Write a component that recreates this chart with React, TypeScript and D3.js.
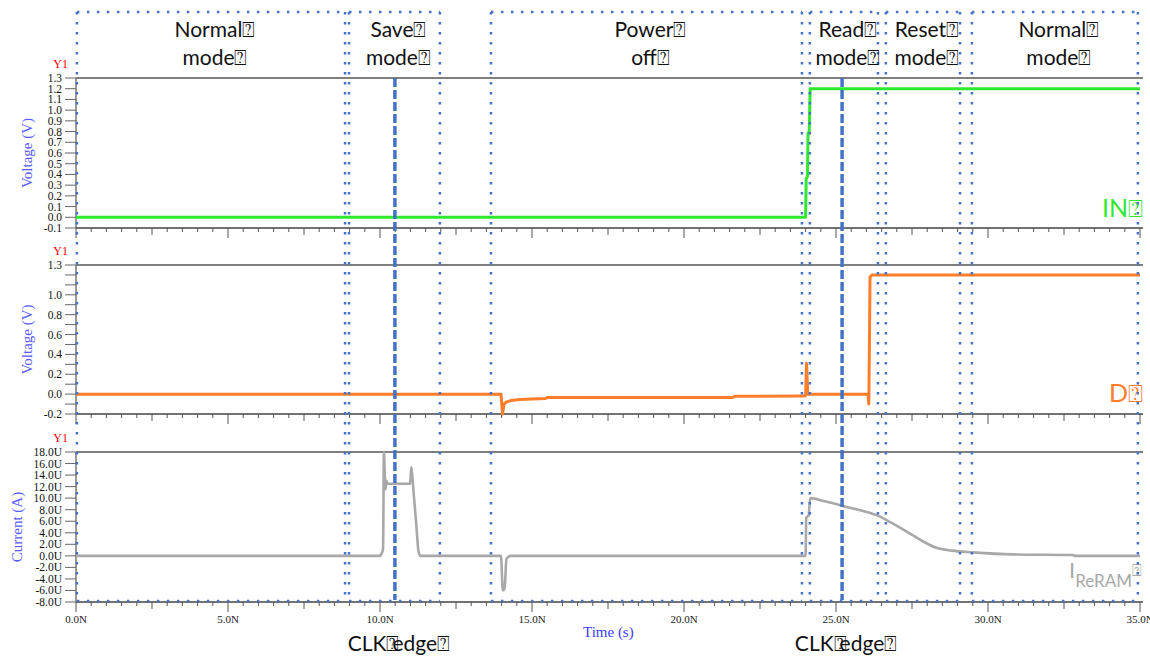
import React, { useEffect, useRef } from 'react'
import * as d3 from 'd3'

const W = 1150
const H = 658

// x axis, ns
const timeLabels = ['0.0N', '5.0N', '10.0N', '15.0N', '20.0N', '25.0N', '30.0N', '35.0N']
const timeLabelValues = [0, 5, 10, 15, 20, 25, 30, 35]

// IN (V)
const inTime = [0, 24.0, 24.02, 24.06, 24.08, 24.12, 24.15, 35]
const inVolt = [0, 0, 0.36, 0.38, 0.78, 0.8, 1.2, 1.2]

// D (V)
const dTime = [0, 13.98, 14.03, 14.08, 14.15, 14.3, 14.6, 15.0, 15.45, 15.5, 21.6, 21.65, 23.95, 24.0, 24.03, 24.07, 24.12, 26.05, 26.08, 26.12, 26.18, 35]
const dVolt = [0, 0, -0.2, -0.1, -0.08, -0.065, -0.055, -0.05, -0.045, -0.035, -0.035, -0.022, -0.02, -0.015, 0.31, 0.0, 0.0, 0.0, -0.1, 1.18, 1.2, 1.2]

// I_ReRAM (uA)
const iTime = [0, 10.0, 10.06, 10.1, 10.13, 10.16, 10.18, 10.21, 10.25, 10.99, 11.03, 11.09, 11.21, 11.26, 11.32, 13.98, 14.04, 14.1, 14.16, 14.3, 24.0, 24.02, 24.1, 24.15, 24.6, 25.2, 25.8, 26.45, 26.8, 27.2, 27.55, 27.9, 28.3, 28.8, 29.5, 30.8, 32.8, 32.85, 35]
const iCurr = [0, 0, 0.5, 1.2, 18, 13.5, 11.5, 13, 12.5, 12.5, 15.4, 12, 4.3, 1, 0, 0, -6, -5.6, -0.5, 0, 0, 6.6, 7, 10, 9.5, 8.7, 7.9, 6.8, 5.8, 4.6, 3.5, 2.4, 1.4, 0.9, 0.6, 0.25, 0.15, 0, 0]

// y ticks
const v1Ticks = [-0.1, 0, 0.1, 0.2, 0.3, 0.4, 0.5, 0.6, 0.7, 0.8, 0.9, 1.0, 1.1, 1.2, 1.3]
const v1Labels = ['-0.1', '0.0', '0.1', '0.2', '0.3', '0.4', '0.5', '0.6', '0.7', '0.8', '0.9', '1.0', '1.1', '1.2', '1.3']
const v2Ticks = [-0.2, -0.1, 0, 0.1, 0.2, 0.3, 0.4, 0.5, 0.6, 0.7, 0.8, 0.9, 1.0, 1.1, 1.2, 1.3]
const v2Labels = ['-0.2', '', '0.0', '', '0.2', '', '0.4', '', '0.6', '', '0.8', '', '1.0', '', '', '1.3']
const iTicks = [-8, -6, -4, -2, 0, 2, 4, 6, 8, 10, 12, 14, 16, 18]
const iLabels = ['-8.0U', '-6.0U', '-4.0U', '-2.0U', '0.0U', '2.0U', '4.0U', '6.0U', '8.0U', '10.0U', '12.0U', '14.0U', '16.0U', '18.0U']

// annotation boxes (ns)
const modeTop = ['Normal⍰', 'Save⍰', 'Power⍰', 'Read⍰', 'Reset⍰', 'Normal⍰']
const modeBottom = ['mode⍰', 'mode⍰', 'off⍰', 'mode⍰', 'mode⍰', 'mode⍰']
const modeStart = [0.03, 8.98, 13.65, 24.14, 26.64, 29.47]
const modeEnd = [8.85, 11.97, 23.88, 26.38, 29.08, 34.93]
const clkEdges = [10.49, 25.2]

const SERIF = '"Liberation Serif", "Times New Roman", serif'
const SANS = 'Lato, "Open Sans", sans-serif'
const BLUE = '#4472c4'

export default function App() {
    const svgRef = useRef<SVGSVGElement>(null)

    useEffect(() => {
        if (!svgRef.current) return
        const svg = d3.select(svgRef.current)
        svg.selectAll('*').remove()

        const x = d3.scaleLinear().domain([0, 35]).range([76, 1140])

        const panels = [
            { y: d3.scaleLinear().domain([-0.1, 1.3]).range([228, 78]), ticks: v1Ticks, labels: v1Labels, title: 'Voltage (V)', titleX: 27,
              t: inTime, v: inVolt, color: '#2fe82f', curve: d3.curveLinear },
            { y: d3.scaleLinear().domain([-0.2, 1.3]).range([414, 265]), ticks: v2Ticks, labels: v2Labels, title: 'Voltage (V)', titleX: 27,
              t: dTime, v: dVolt, color: '#fd7d2b', curve: d3.curveLinear },
            { y: d3.scaleLinear().domain([-8, 18]).range([602, 452]), ticks: iTicks, labels: iLabels, title: 'Current (A)', titleX: 17,
              t: iTime, v: iCurr, color: '#a8a8a8', curve: d3.curveMonotoneX },
        ]

        const minorT = d3.range(0, 35.01, 0.5)

        panels.forEach((p, pi) => {
            const [y0, y1] = p.y.range()
            const g = svg.append('g')

            // top frame line
            g.append('line').attr('x1', 76).attr('x2', 1143).attr('y1', y1).attr('y2', y1)
                .attr('stroke', '#555').attr('stroke-width', 1.5)
            // left axis
            g.append('line').attr('x1', 76).attr('x2', 76).attr('y1', y1).attr('y2', y0)
                .attr('stroke', '#777').attr('stroke-width', 1.5)
            // bottom axis
            g.append('line').attr('x1', 76).attr('x2', 1143).attr('y1', y0).attr('y2', y0)
                .attr('stroke', '#444').attr('stroke-width', 1.5)

            g.selectAll('line.xt').data(minorT).enter().append('line')
                .attr('x1', d => x(d)).attr('x2', d => x(d))
                .attr('y1', y0)
                .attr('y2', d => y0 + (Math.abs(d % 5) < 1e-6 ? 10 : Math.abs(d % 2.5) < 1e-6 ? 7 : 4))
                .attr('stroke', '#555').attr('stroke-width', 1)

            g.selectAll('line.yt').data(p.ticks).enter().append('line')
                .attr('x1', 65).attr('x2', 76)
                .attr('y1', d => p.y(d)).attr('y2', d => p.y(d))
                .attr('stroke', '#666').attr('stroke-width', 1)

            g.selectAll('text.yl').data(p.ticks).enter().append('text')
                .attr('x', 62).attr('y', d => p.y(d) + 4)
                .attr('text-anchor', 'end')
                .style('font-family', SERIF).style('font-size', '11.5px').style('fill', '#111')
                .text((d, i) => p.labels[i])

            g.append('text').attr('x', 68).attr('y', y1 - 10)
                .attr('text-anchor', 'end')
                .style('font-family', SERIF).style('font-size', '12px').style('fill', '#f00')
                .text('Y1')

            g.append('text')
                .attr('transform', `translate(${p.titleX + 5},${(y0 + y1) / 2}) rotate(-90)`)
                .attr('text-anchor', 'middle')
                .style('font-family', SERIF).style('font-size', '15px').style('fill', '#5a5aff')
                .text(p.title)

            const line = d3.line<number>()
                .x((d, i) => x(p.t[i]))
                .y(d => p.y(d))
                .curve(p.curve)
            g.append('path').attr('d', line(p.v))
                .attr('fill', 'none').attr('stroke', p.color).attr('stroke-width', pi === 2 ? 2.6 : 3)
                .attr('stroke-linejoin', 'round')

            if (pi === 2) {
                g.selectAll('text.xl').data(timeLabelValues).enter().append('text')
                    .attr('x', d => x(d)).attr('y', 623)
                    .attr('text-anchor', 'middle')
                    .style('font-family', SERIF).style('font-size', '11px').style('fill', '#222')
                    .text((d, i) => timeLabels[i])
            }
        })

        svg.append('text').attr('x', 583).attr('y', 637)
            .style('font-family', SERIF).style('font-size', '15px').style('fill', '#3c3cff')
            .text('Time (s)')

        // channel labels
        svg.append('text').attr('x', 1143).attr('y', 217).attr('text-anchor', 'end')
            .style('font-family', SANS).style('font-size', '25px').style('fill', '#2fe82f')
            .text('IN⍰')
        svg.append('text').attr('x', 1143).attr('y', 402).attr('text-anchor', 'end')
            .style('font-family', SANS).style('font-size', '25px').style('fill', '#fd7d2b')
            .text('D⍰')
        const ire = svg.append('text').attr('x', 1142).attr('y', 578).attr('text-anchor', 'end')
            .style('font-family', SANS).style('font-size', '22px').style('fill', '#a8a8a8')
        ire.append('tspan').text('I')
        ire.append('tspan').attr('dy', 9).style('font-size', '17px').text('ReRAM')
        ire.append('tspan').attr('dy', -11).style('font-size', '16px').text('⍰')

        // mode annotation boxes
        const ann = svg.append('g')
        const dotted = (x1: number, y1: number, x2: number, y2: number) =>
            ann.append('line').attr('x1', x1).attr('y1', y1).attr('x2', x2).attr('y2', y2)
                .attr('stroke', BLUE).attr('stroke-width', 2.5).attr('stroke-dasharray', '2.5 7.5')

        modeStart.forEach((s, i) => {
            const xa = x(s), xb = x(modeEnd[i])
            dotted(xa, 12, xb, 12)
            dotted(xa, 601, xb, 601)
            dotted(xa, 12, xa, 601)
            dotted(xb, 12, xb, 601)
            const cx = (xa + xb) / 2 + 4
            ann.append('text').attr('x', cx).attr('y', 37).attr('text-anchor', 'middle')
                .style('font-family', SANS).style('font-size', '21px').style('fill', '#111')
                .text(modeTop[i])
            ann.append('text').attr('x', cx).attr('y', 65).attr('text-anchor', 'middle')
                .style('font-family', SANS).style('font-size', '21px').style('fill', '#111')
                .text(modeBottom[i])
        })

        clkEdges.forEach(c => {
            ann.append('line').attr('x1', x(c)).attr('x2', x(c)).attr('y1', 78).attr('y2', 600)
                .attr('stroke', BLUE).attr('stroke-width', 3.5).attr('stroke-dasharray', '9 3')
            const t = ann.append('text').attr('x', x(c) + 4).attr('y', 651).attr('text-anchor', 'middle')
                .style('font-family', SANS).style('font-size', '21px').style('fill', '#111')
            t.append('tspan').text('CLK⍰')
            t.append('tspan').attr('dx', -7).text('edge⍰')
        })
    }, [])

    return (
        <svg ref={svgRef} width={W} height={H}
            style={{ position: 'absolute', left: 0, top: 0, background: '#fff' }} />
    )
}
